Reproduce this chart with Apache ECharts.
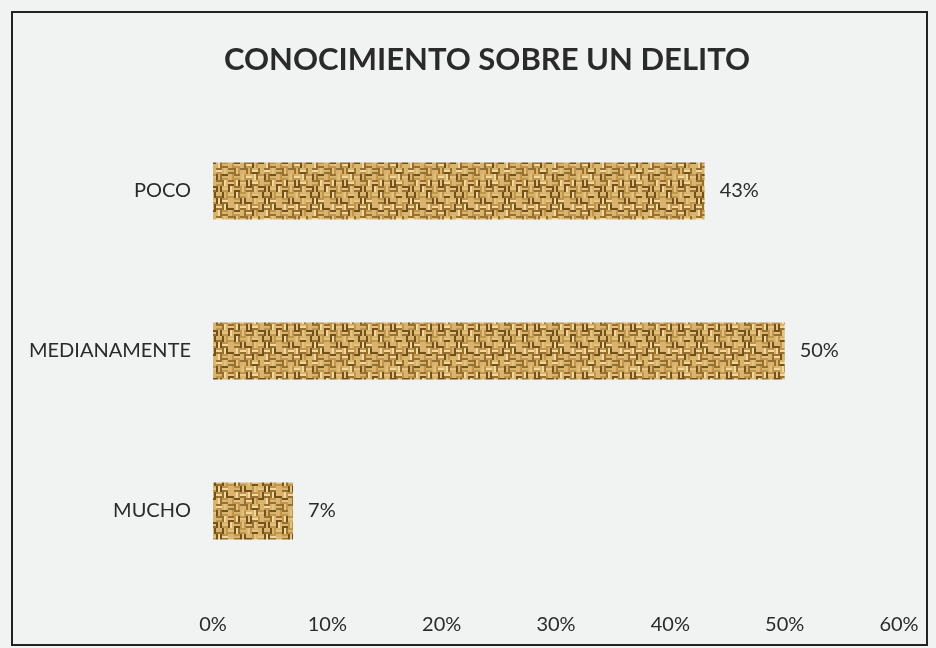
<!DOCTYPE html>
<html>
<head>
<meta charset="utf-8">
<script src="https://cdn.jsdelivr.net/npm/echarts@6/dist/echarts.min.js"></script>
<style>
  html, body { margin: 0; padding: 0; background: #f1f3f2; }
  #chart { width: 936px; height: 648px; }
</style>
</head>
<body>
<div id="chart"></div>
<script>
// datos del gráfico
const categories = ['POCO', 'MEDIANAMENTE', 'MUCHO'];
const values = [43, 50, 7];
const xTicks = [0, 10, 20, 30, 40, 50, 60];

// textura tipo arpillera (tejido de cesta irregular)
function burlap() {
  const c = document.createElement('canvas');
  c.width = 48; c.height = 48;
  const g = c.getContext('2d');
  const tones = ['#74501c', '#98702f', '#c0964e', '#d9b46c', '#f0d89e', '#e4c283'];
  let s = 7;
  const hash = () => { s = (s * 1103515245 + 12345) & 0x7fffffff; return s / 0x7fffffff; };
  g.fillStyle = '#a27a38';
  g.fillRect(0, 0, 48, 48);
  for (let by = 0; by < 8; by++) {
    for (let bx = 0; bx < 8; bx++) {
      const x0 = bx * 6, y0 = by * 6;
      const horiz = (bx + by) % 2 === 0;
      for (let k = 0; k < 3; k++) {
        const t = hash();
        g.fillStyle = k === 1 ? tones[3 + Math.floor(t * 3)] : tones[Math.floor(t * 4)];
        if (horiz) g.fillRect(x0, y0 + k * 2, 6, 2);
        else g.fillRect(x0 + k * 2, y0, 2, 6);
      }
    }
  }
  return c;
}

const chart = echarts.init(document.getElementById('chart'));
const font = 'Lato, "Open Sans", sans-serif';

chart.setOption({
  backgroundColor: '#f1f3f2',
  animation: false,
  title: {
    text: 'CONOCIMIENTO SOBRE UN DELITO',
    left: 219,
    top: 39,
    textStyle: { fontFamily: font, fontSize: 31, fontWeight: 'bold', color: '#2a2a2a' }
  },
  graphic: [{
    type: 'rect',
    shape: { x: 12, y: 12, width: 915, height: 633 },
    style: { fill: 'transparent', stroke: '#222', lineWidth: 2 },
    silent: true
  }],
  grid: { left: 213, right: 37, top: 111, bottom: 57 },
  xAxis: {
    type: 'value',
    min: 0,
    max: 60,
    interval: 10,
    axisLine: { show: false },
    axisTick: { show: false },
    splitLine: { show: false },
    axisLabel: {
      margin: 24,
      fontFamily: font,
      fontSize: 20,
      color: '#2a2a2a',
      formatter: v => xTicks.includes(v) ? v + '%' : ''
    }
  },
  yAxis: {
    type: 'category',
    data: categories,
    inverse: true,
    axisLine: { show: false },
    axisTick: { show: false },
    axisLabel: { margin: 22, fontFamily: font, fontSize: 20, color: '#2a2a2a' }
  },
  series: [{
    type: 'bar',
    data: values,
    barWidth: 57,
    itemStyle: { color: { image: burlap(), repeat: 'repeat' } },
    label: {
      show: true,
      position: 'right',
      distance: 15,
      fontFamily: font,
      fontSize: 20,
      color: '#2a2a2a',
      formatter: p => p.value + '%'
    }
  }]
});
</script>
</body>
</html>
